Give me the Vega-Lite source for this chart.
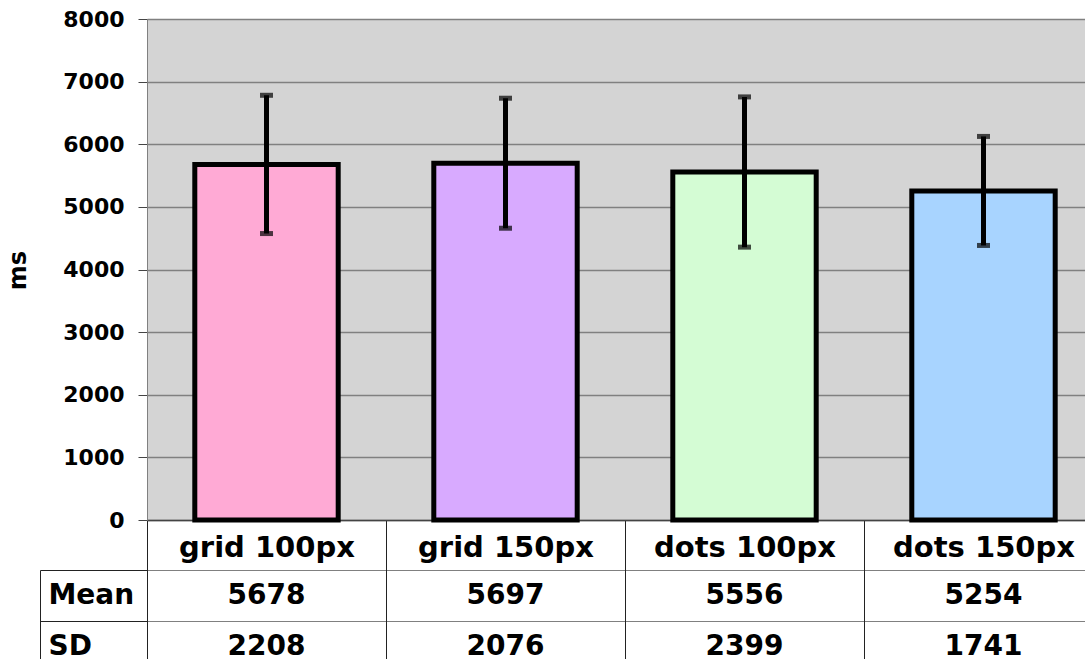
{
  "$schema": "https://vega.github.io/schema/vega-lite/v6.json",
  "width": 938,
  "height": 501,
  "autosize": {"type": "none"},
  "padding": {"left": 147, "top": 19, "right": 0, "bottom": 139},
  "background": "white",
  "config": {
    "font": "DejaVu Sans",
    "view": {"fill": "#d4d4d4", "stroke": null}
  },
  "data": {
    "values": [
      {"cond": "grid 100px", "Mean": 5678, "SD": 2208, "lo": 4574, "hi": 6782},
      {"cond": "grid 150px", "Mean": 5697, "SD": 2076, "lo": 4659, "hi": 6735},
      {"cond": "dots 100px", "Mean": 5556, "SD": 2399, "lo": 4357, "hi": 6756},
      {"cond": "dots 150px", "Mean": 5254, "SD": 1741, "lo": 4384, "hi": 6125}
    ]
  },
  "layer": [
    {
      "layer": [
        {
          "mark": {"type": "bar", "stroke": "black", "strokeWidth": 5, "strokeJoin": "miter"},
          "encoding": {
            "x": {
              "field": "cond",
              "type": "nominal",
              "sort": null,
              "scale": {"domain": ["grid 100px", "grid 150px", "dots 100px", "dots 150px"], "range": [0, 956], "paddingInner": 0.4, "paddingOuter": 0.2},
              "axis": {
                "title": null,
                "orient": "bottom",
                "labelAngle": 0,
                "tickOffset": -119.5,
                "labelOffset": 119.5,
                "labelLimit": 0,
                "tickSize": 139,
                "tickColor": "#222222",
                "tickWidth": 1,
                "labelFontSize": 29,
                "labelFontWeight": "bold",
                "labelColor": "black",
                "labelPadding": -112,
                "labelBaseline": "middle",
                "domainColor": "#444444",
                "domainWidth": 1.5,
                "grid": false
              }
            },
            "y": {
              "field": "Mean",
              "type": "quantitative",
              "scale": {"domain": [0, 8000], "nice": false},
              "axis": {
                "title": "ms",
                "titleFontSize": 24,
                "titleFontWeight": "bold",
                "titleColor": "black",
                "titleX": -129,
                "titleY": 251,
                "titleAlign": "center",
                "titleBaseline": "middle",
                "values": [0, 1000, 2000, 3000, 4000, 5000, 6000, 7000, 8000],
                "format": "d",
                "tickSize": 9,
                "tickColor": "#444444",
                "labelPadding": 14,
                "labelFontSize": 22,
                "labelFontWeight": "bold",
                "labelColor": "black",
                "grid": true,
                "gridColor": "#808080",
                "gridWidth": 1.5,
                "gridOpacity": 1,
                "domainColor": "#808080",
                "domainWidth": 1
              }
            },
            "fill": {
              "field": "cond",
              "type": "nominal",
              "scale": {"domain": ["grid 100px", "grid 150px", "dots 100px", "dots 150px"], "range": ["#ffaad5", "#d8aaff", "#d4fcd4", "#a8d4ff"]},
              "legend": null
            }
          }
        },
        {
          "mark": {"type": "rule", "color": "black", "strokeWidth": 5},
          "encoding": {
            "x": {"field": "cond", "type": "nominal", "sort": null},
            "y": {"field": "lo", "type": "quantitative"},
            "y2": {"field": "hi"}
          }
        },
        {
          "mark": {"type": "tick", "color": "black", "size": 13, "thickness": 5},
          "encoding": {
            "x": {"field": "cond", "type": "nominal", "sort": null},
            "y": {"field": "lo", "type": "quantitative"}
          }
        },
        {
          "mark": {"type": "tick", "color": "black", "size": 13, "thickness": 5},
          "encoding": {
            "x": {"field": "cond", "type": "nominal", "sort": null},
            "y": {"field": "hi", "type": "quantitative"}
          }
        }
      ]
    },
    {
      "transform": [{"fold": ["Mean", "SD"], "as": ["row", "val"]}],
      "mark": {"type": "text", "fontSize": 28, "fontWeight": "bold", "color": "black", "baseline": "middle"},
      "encoding": {
        "x": {"field": "cond", "type": "nominal", "sort": null},
        "y": {
          "field": "row",
          "type": "nominal",
          "scale": {"domain": ["Mean", "SD"], "range": [551, 653], "paddingInner": 0, "paddingOuter": 0},
          "axis": {
            "title": null,
            "orient": "left",
            "offset": 107,
            "tickBand": "extent",
            "tickSize": -107,
            "tickColor": "#222222",
            "domainColor": "#222222",
            "labelAlign": "left",
            "labelPadding": 99,
            "labelFontSize": 28,
            "labelFontWeight": "bold",
            "labelColor": "black",
            "labelBaseline": "middle",
            "grid": true,
            "gridColor": "#808080",
            "gridWidth": 1,
            "gridOpacity": 1
          }
        },
        "text": {"field": "val", "type": "nominal"}
      }
    }
  ],
  "resolve": {"scale": {"y": "independent"}, "axis": {"y": "independent"}}
}
